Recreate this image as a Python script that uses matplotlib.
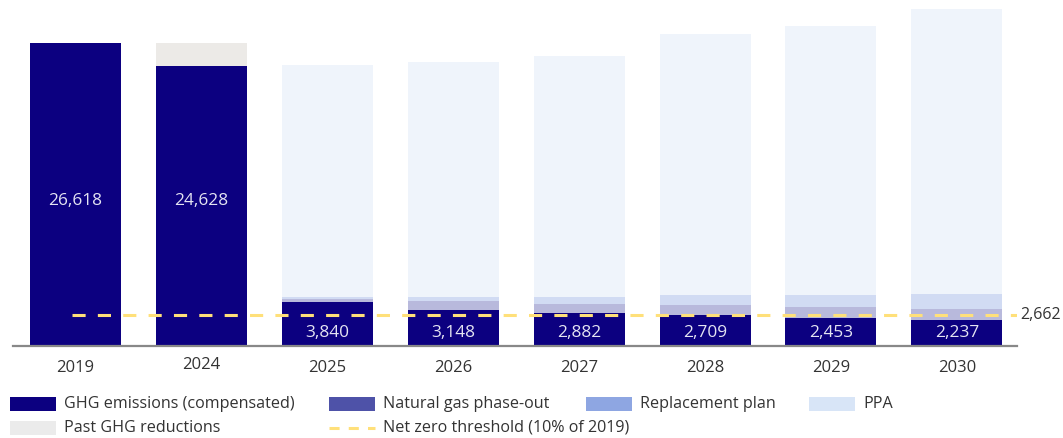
import matplotlib
matplotlib.use("Agg")
import matplotlib.pyplot as plt
from matplotlib.patches import Rectangle
from matplotlib.lines import Line2D
import matplotlib.transforms as mtransforms
import numpy as np

plt.rcParams['font.family'] = ['Open Sans', 'DejaVu Sans']

# ---- data ----
years = ["2019", "2024", "2025", "2026", "2027", "2028", "2029", "2030"]
ghg_emissions = [26618, 24628, 3840, 3148, 2882, 2709, 2453, 2237]
past_reductions = [0, 1990, 0, 0, 0, 0, 0, 0]
natural_gas = [0, 0, 270, 810, 780, 870, 975, 995]
replacement = [0, 0, 200, 350, 640, 880, 1030, 1320]
ppa = [0, 0, 20375, 20641, 21174, 22978, 23683, 25058]
threshold = 2662
label_level_hist = 12750
label_level_fore = 1120

# ---- style ----
c_ghg = '#0c0080'
c_past = '#eceae7'
c_past_leg = '#ebebeb'
c_gas = '#4e52a8'
c_repl = '#8ea6e2'
c_ppa = '#d8e5f7'
c_thr = '#ffe07a'
fore_alpha = 0.4

W, H = 1063, 438
fig = plt.figure(figsize=(W / 100, H / 100), dpi=100)
ax_left, ax_right, ax_top, ax_bottom = 13, 1017, 0, 345.7
ax = fig.add_axes([ax_left / W, 1 - ax_bottom / H, (ax_right - ax_left) / W, (ax_bottom - ax_top) / H])

x = np.arange(len(years))
bw = 0.7228
ghg = np.array(ghg_emissions, float)
past = np.array(past_reductions, float)
gas = np.array(natural_gas, float)
rep = np.array(replacement, float)
pp = np.array(ppa, float)

ax.bar(x, ghg, width=bw, color=c_ghg, zorder=2)
ax.bar(x, past, width=bw, bottom=ghg, color=c_past, zorder=2)
ax.bar(x, gas, width=bw, bottom=ghg, color=c_gas, alpha=fore_alpha, lw=0, zorder=2)
ax.bar(x, rep, width=bw, bottom=ghg + gas, color=c_repl, alpha=fore_alpha, lw=0, zorder=2)
ax.bar(x, pp, width=bw, bottom=ghg + gas + rep, color=c_ppa, alpha=fore_alpha, lw=0, zorder=2)

xmin, xmax = -0.4964, 7.478
ax.set_xlim(xmin, xmax)
ax.set_ylim(0, 30400)

dash = (4.3, 4.0)
ax.plot([x[0] - 0.03, xmax], [threshold, threshold], color=c_thr, lw=2.2,
        dashes=dash, zorder=4, solid_capstyle='butt', dash_capstyle='butt')
ax.annotate(f"{threshold:,}", xy=(xmax, threshold), xytext=(2, 0), textcoords='offset points',
            ha='left', va='center', fontsize=11.5, color='#333333', annotation_clip=False)

for i, v in enumerate(ghg_emissions):
    ly = label_level_hist if i < 2 else label_level_fore
    ax.text(x[i], ly, f"{v:,}", ha='center', va='center', fontsize=12.4, color='#e4e4f2', zorder=5)

ax.set_xticks(x)
ax.set_xticklabels(years, fontsize=12, color='#333333')
ax.tick_params(axis='x', length=0, pad=10)
# the 2024 label sits slightly higher in the original
lbl = ax.get_xticklabels()[1]
lbl.set_transform(lbl.get_transform() + mtransforms.ScaledTranslation(0, 3 / 100, fig.dpi_scale_trans))
ax.set_yticks([])
for s in ['top', 'left', 'right']:
    ax.spines[s].set_visible(False)
ax.spines['bottom'].set_color('#888888')
ax.spines['bottom'].set_linewidth(1.6)
ax.spines['bottom'].set_zorder(6)

# ---- legend (manual flow layout) ----
def fx(px):
    return px / W

def fy(py):
    return 1 - py / H

pw, ph = 46, 13.5
entries = [
    ("patch", c_ghg, "GHG emissions (compensated)", 10, 404),
    ("patch", c_gas, "Natural gas phase-out", 329, 404),
    ("patch", c_repl, "Replacement plan", 586, 404),
    ("patch", c_ppa, "PPA", 809, 404),
    ("patch", c_past_leg, "Past GHG reductions", 10, 428),
    ("line", c_thr, "Net zero threshold (10% of 2019)", 329, 428),
]
for kind, col, lab, px, py in entries:
    if kind == "patch":
        fig.add_artist(Rectangle((fx(px), fy(py + ph / 2)), pw / W, ph / H,
                                 transform=fig.transFigure, color=col, lw=0))
    else:
        fig.add_artist(Line2D([fx(px), fx(px + pw)], [fy(py), fy(py)], transform=fig.transFigure,
                              color=col, lw=2.2, dashes=(3.3, 3.0), dash_capstyle='butt'))
    fig.text(fx(px + 54), fy(py), lab, ha='left', va='center', fontsize=11.6, color='#333333')

fig.savefig("out.png", dpi=100)
